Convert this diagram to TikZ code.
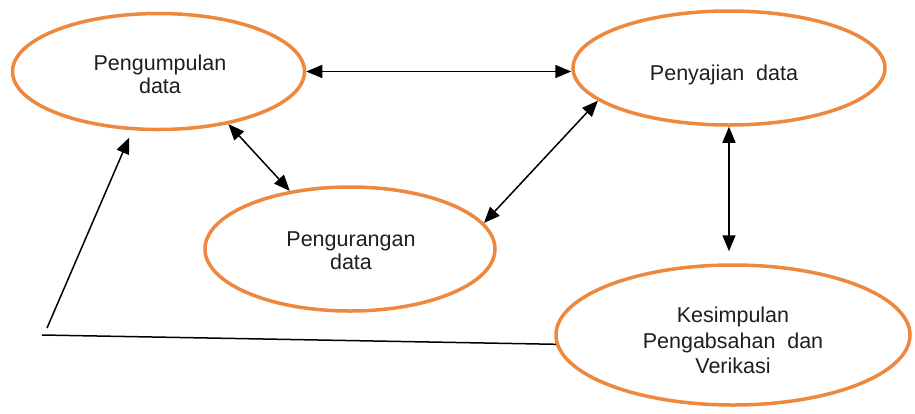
\documentclass[tikz,border=0pt]{standalone}
\usepackage{fontspec}
\setmainfont{Liberation Sans}
\usetikzlibrary{shapes.geometric,arrows.meta}
\definecolor{ellorange}{RGB}{238,136,62}
\newcommand\mywidesp{\spaceskip=0.55em\relax}
\begin{document}
\begin{tikzpicture}[x=1pt,y=-1pt,
  ell/.style={ellipse,draw=ellorange,line width=3.5pt,inner sep=0pt},
  lbl/.style={font=\fontsize{21.5}{23}\selectfont\mywidesp,align=center,text=black!88,inner sep=0pt},
  conn/.style={line width=1.5pt,{Triangle[length=16pt,width=13pt]}-{Triangle[length=16pt,width=13pt]}},
  oneway/.style={line width=1.5pt,-{Triangle[length=16pt,width=13pt]}},
  plain/.style={line width=1.5pt}]
\useasboundingbox (0,0) rectangle (915,413);
\fill[white] (0,0) rectangle (915,413);
% ellipses
\node[ell,minimum width=292pt,minimum height=116pt] (A) at (158.5,71.5) {};
\node[ell,minimum width=312pt,minimum height=114pt] (B) at (729,68) {};
\node[ell,minimum width=290pt,minimum height=124pt] (C) at (350,249) {};
\node[ell,minimum width=354pt,minimum height=140pt] (D) at (733,335) {};
% labels
\node[lbl] (At) at (160,74) {Pengumpulan\\data};
\node[lbl] (Bt) at (724,75) {Penyajian data};
\node[lbl] (Ct) at (351,251) {Pengurangan\\data};
\node[lbl,font=\fontsize{21.5}{25.5}\selectfont\mywidesp] (Dt) at (733,340.5) {Kesimpulan\\Pengabsahan dan\\Verikasi};
% connectors
\draw[conn] (A.east) -- (A.east -| B.west);
\draw[conn] (A.-37) -- (C.136);
\draw[conn] (C.11) -- (B.194);
\draw[conn,shorten >=12pt] (B.south) -- (B.south |- D.north);
\coordinate (L) at (42,335);
\coordinate (S) at (47,328);
\draw[plain] (D.183) -- (L);
\draw[oneway,shorten >=8pt] (S) -- (A.246);
\end{tikzpicture}
\end{document}
